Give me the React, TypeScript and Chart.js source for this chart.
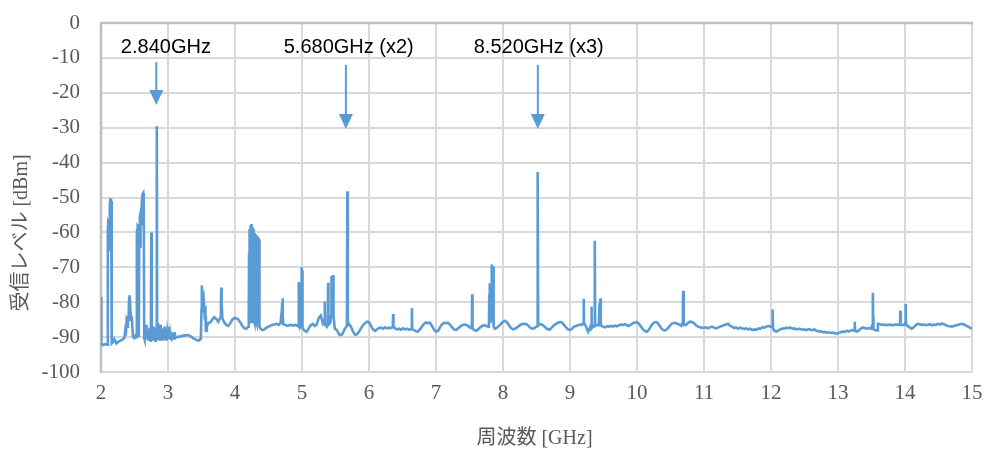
import React, { useEffect, useRef } from "react";
import { Chart, registerables } from "chart.js";

Chart.register(...registerables);

// ---- Data: [frequency GHz, level dBm] per band ----
const BAND_2_3: [number, number][] = [
  [2.0, -78.5], [2.004, -92.0], [2.03, -92.3], [2.06, -92.0], [2.09, -92.2], [2.1, -91.5],
  [2.104, -60], [2.107, -57.5], [2.112, -57], [2.118, -58], [2.124, -65], [2.128, -56], [2.134, -52], [2.14, -50.5], [2.148, -50.2], [2.152, -52], [2.158, -51], [2.162, -91.8],
  [2.17, -91.6], [2.19, -91.2], [2.2, -90.6], [2.21, -91.0], [2.23, -91.8], [2.25, -91.5], [2.27, -91.2], [2.29, -91.0], [2.31, -90.8], [2.33, -90.6], [2.35, -90.2],
  [2.36, -88.5], [2.37, -89.5], [2.38, -86], [2.39, -87], [2.4, -84], [2.41, -85.5], [2.42, -78.5], [2.425, -82], [2.43, -78], [2.44, -82.5], [2.45, -85], [2.46, -84], [2.47, -88], [2.48, -90], [2.5, -90.3], [2.52, -89.5],
  [2.53, -90], [2.535, -61], [2.54, -59], [2.545, -65], [2.55, -58.5], [2.56, -59], [2.565, -90], [2.57, -58], [2.58, -55], [2.585, -64], [2.59, -54.5], [2.6, -53.5], [2.605, -58], [2.61, -52], [2.615, -50], [2.62, -49], [2.63, -48.7], [2.635, -52], [2.64, -50], [2.645, -90.5],
  [2.65, -90.8], [2.66, -87], [2.665, -90.5], [2.675, -86.5], [2.68, -90], [2.69, -88], [2.7, -91], [2.71, -87.5], [2.72, -90.5], [2.73, -89], [2.74, -91], [2.745, -87], [2.75, -60], [2.755, -90.5], [2.76, -88], [2.77, -91], [2.78, -87], [2.79, -90.5], [2.8, -88.5], [2.81, -91], [2.82, -87.5], [2.828, -90.5], [2.833, -29.5], [2.838, -90.5],
  [2.85, -86], [2.86, -90.5], [2.87, -88], [2.88, -91], [2.89, -86.5], [2.9, -90], [2.91, -87.5], [2.92, -91], [2.93, -88], [2.94, -90.5], [2.95, -87], [2.96, -90.5], [2.97, -89], [2.98, -91], [2.99, -88.5],
];

const BAND_3_4: [number, number][] = [
  [3.0, -90], [3.01, -87], [3.02, -90.5], [3.03, -89], [3.04, -90.8], [3.05, -88.5], [3.06, -90.3], [3.08, -89.5], [3.09, -90.4], [3.1, -88.6], [3.11, -90.2],
  [3.14, -90], [3.18, -89.8], [3.22, -89.6], [3.26, -89.5], [3.3, -89.4], [3.34, -89.8], [3.38, -90.4], [3.42, -90.8], [3.46, -91], [3.49, -90.5],
  [3.5, -82], [3.505, -75.2], [3.51, -78], [3.515, -77], [3.52, -80], [3.53, -79], [3.535, -83], [3.54, -81], [3.55, -85], [3.56, -84], [3.565, -88.5], [3.57, -86.5], [3.58, -87],
  [3.6, -86], [3.63, -85.8], [3.66, -85], [3.69, -84.3], [3.72, -84.8], [3.75, -85.6], [3.78, -84.5], [3.79, -80], [3.795, -75.8], [3.8, -80], [3.81, -84.5], [3.84, -85.8], [3.87, -86.5], [3.9, -86.8], [3.93, -86], [3.96, -85], [3.99, -84.5],
];

const BAND_4_5: [number, number][] = [
  [4.02, -84.6], [4.05, -85], [4.08, -85.8], [4.11, -86.8], [4.14, -87.5], [4.17, -87.6], [4.2, -87],
  [4.205, -86], [4.21, -66], [4.215, -86], [4.22, -59], [4.225, -85], [4.23, -58], [4.235, -86], [4.24, -57.8], [4.245, -86], [4.25, -57.6], [4.255, -85], [4.26, -58.5], [4.265, -86], [4.27, -59], [4.275, -86], [4.28, -60], [4.285, -85.5], [4.29, -60.2], [4.295, -86], [4.3, -60.5], [4.305, -86], [4.31, -61], [4.315, -85.5], [4.32, -60.8], [4.325, -86], [4.33, -61.2], [4.335, -86], [4.34, -61.3], [4.345, -86], [4.35, -61.5], [4.355, -86], [4.36, -62], [4.365, -87],
  [4.38, -87.5], [4.41, -88], [4.44, -87.8], [4.47, -87.3], [4.5, -87], [4.53, -86.7], [4.56, -86.5], [4.59, -86.4], [4.62, -86.2], [4.65, -86.5], [4.68, -86], [4.7, -82], [4.705, -80], [4.71, -78.9], [4.715, -84], [4.72, -86.3], [4.75, -86.5], [4.78, -86.8], [4.81, -86.6], [4.84, -86.5], [4.87, -86.7], [4.9, -86.5], [4.93, -86.8],
  [4.945, -86.5], [4.95, -74.2], [4.955, -86.8], [4.965, -87], [4.975, -87.2], [4.985, -86.5], [4.99, -75], [4.995, -70], [5.0, -71], [5.005, -84], [5.01, -87.5],
];

const BAND_5_6: [number, number][] = [
  [5.04, -88.2], [5.07, -88.5], [5.1, -87.5], [5.13, -86.6], [5.16, -86.2], [5.19, -86.8], [5.22, -86.4], [5.25, -84.5], [5.28, -83.8], [5.31, -86], [5.335, -85], [5.34, -79.8], [5.345, -86.5], [5.37, -87], [5.385, -86], [5.39, -74.4], [5.395, -86.5], [5.42, -86], [5.435, -84], [5.44, -72.5], [5.45, -80], [5.465, -72.2], [5.47, -84], [5.49, -87.6], [5.52, -88], [5.56, -89.4], [5.6, -89.2], [5.64, -87.6], [5.67, -86.8], [5.677, -48.2], [5.684, -86.5],
  [5.7, -86.2], [5.73, -87], [5.76, -88.4], [5.79, -89.3], [5.82, -89.2], [5.85, -88.5], [5.88, -87.5], [5.91, -86.6], [5.94, -86], [5.97, -85.6],
];

const BAND_6_8: [number, number][] = [
  [6.0, -85.7], [6.03, -86.8], [6.06, -87.8], [6.09, -88.2], [6.12, -87.8], [6.15, -87.4], [6.18, -87.3], [6.21, -87.6], [6.24, -87.2], [6.27, -87.5], [6.3, -87.3], [6.33, -87.4], [6.355, -87.2], [6.36, -83.4], [6.365, -87], [6.39, -87.5], [6.42, -87.8], [6.45, -87.6], [6.48, -87.9], [6.51, -87.5], [6.54, -87.8], [6.57, -87.6], [6.6, -87.9], [6.635, -87.5], [6.64, -81.7], [6.645, -87.8], [6.67, -88], [6.7, -88.3], [6.73, -88.4], [6.76, -87.8], [6.79, -87], [6.82, -86.2], [6.85, -85.8], [6.88, -86], [6.91, -85.9], [6.94, -86.8], [6.97, -87.8],
  [7.0, -88.4], [7.03, -88.2], [7.06, -87.2], [7.09, -86.3], [7.12, -85.9], [7.15, -86], [7.18, -85.9], [7.21, -86.5], [7.24, -87.2], [7.27, -87.8], [7.3, -87.9], [7.33, -87.5], [7.36, -87], [7.39, -86.6], [7.42, -86.4], [7.45, -86.5], [7.48, -86.8], [7.51, -87.3], [7.535, -87.5], [7.54, -77.7], [7.545, -87.6], [7.57, -88], [7.6, -88.2], [7.63, -87.8], [7.66, -87.2], [7.69, -86.8], [7.72, -86.6], [7.75, -86.8], [7.78, -87], [7.79, -86.5], [7.795, -77.8], [7.8, -86], [7.805, -74.6], [7.81, -85], [7.815, -82], [7.82, -76], [7.825, -84], [7.83, -72], [7.835, -69.2], [7.84, -80], [7.845, -70], [7.85, -86], [7.855, -69.8], [7.86, -87], [7.88, -87.6], [7.91, -87.3], [7.94, -86.8], [7.97, -86.2],
];

const BAND_8_10: [number, number][] = [
  [8.0, -85.6], [8.03, -85.3], [8.06, -85.8], [8.09, -86.6], [8.12, -87.4], [8.15, -87.8], [8.18, -87.6], [8.21, -87.2], [8.24, -86.8], [8.27, -86.4], [8.3, -86.2], [8.33, -86.2], [8.36, -86.4], [8.39, -87], [8.42, -87.5], [8.45, -87.6], [8.48, -87.3], [8.51, -86.8], [8.515, -64], [8.52, -42.7], [8.525, -86.5],
  [8.55, -86.3], [8.58, -86.4], [8.61, -86.8], [8.64, -87.4], [8.67, -87.8], [8.7, -87.8], [8.73, -87.2], [8.76, -86.6], [8.79, -86.2], [8.82, -85.9], [8.85, -85.7], [8.88, -85.8], [8.91, -86.5], [8.94, -87.2], [8.97, -87.8],
  [9.0, -88], [9.03, -87.6], [9.06, -87], [9.09, -86.8], [9.12, -86.6], [9.15, -86.4], [9.18, -86.5], [9.2, -86], [9.205, -79], [9.21, -86], [9.24, -87], [9.27, -88.5], [9.3, -87.2], [9.315, -86.5], [9.32, -81.2], [9.325, -87.5], [9.35, -86.8], [9.365, -86.5], [9.37, -62.4], [9.375, -86.8], [9.4, -86.5], [9.43, -86.6], [9.44, -80.3], [9.445, -86], [9.455, -78.9], [9.46, -86.6],
  [9.49, -87], [9.52, -87.2], [9.55, -86.9], [9.58, -87], [9.61, -86.8], [9.64, -87], [9.67, -86.7], [9.7, -86.9], [9.73, -86.6], [9.76, -86.4], [9.79, -86.5], [9.82, -86.3], [9.85, -86.6], [9.88, -86.8], [9.91, -86.4], [9.94, -86], [9.97, -85.8],
];

const BAND_10_12: [number, number][] = [
  [10.0, -85.7], [10.03, -86.2], [10.06, -87], [10.09, -87.8], [10.12, -88.3], [10.15, -88.4], [10.18, -87.8], [10.21, -86.8], [10.24, -86], [10.27, -85.7], [10.3, -85.8], [10.33, -86.5], [10.36, -87.4], [10.39, -88], [10.42, -88.1], [10.45, -87.7], [10.48, -87], [10.51, -86.3], [10.54, -86], [10.57, -85.9], [10.6, -86.2], [10.63, -86.4], [10.66, -86.8], [10.68, -86], [10.685, -80], [10.69, -76.7], [10.695, -82], [10.7, -86.5],
  [10.73, -86.5], [10.76, -86], [10.79, -85.6], [10.82, -85.7], [10.85, -86], [10.88, -86.6], [10.91, -87], [10.94, -87.2], [10.97, -87.4], [11.0, -87.3], [11.03, -87.2], [11.06, -87.5], [11.09, -87.2], [11.12, -87], [11.15, -87.3], [11.18, -87.5], [11.21, -87.3], [11.24, -87], [11.27, -86.8], [11.3, -86.5], [11.33, -86.4], [11.36, -86.2], [11.39, -86.8], [11.42, -87], [11.45, -87.4], [11.48, -87.2], [11.51, -87.6], [11.54, -87.3], [11.57, -87.5], [11.6, -87.7], [11.63, -87.5], [11.66, -87.8], [11.69, -87.6], [11.72, -88], [11.75, -87.8], [11.78, -87.9], [11.81, -87.5], [11.84, -87.6], [11.87, -87.2], [11.9, -87.3], [11.93, -87], [11.96, -86.8], [11.99, -87],
];

const BAND_12_15: [number, number][] = [
  [12.02, -87], [12.025, -82.1], [12.03, -87.5], [12.05, -88.2], [12.08, -88.4], [12.11, -88.1], [12.14, -87.8], [12.17, -87.5], [12.2, -87.6], [12.23, -87.3], [12.26, -87.4], [12.29, -87.3], [12.32, -87.6], [12.35, -87.5], [12.38, -87.8], [12.41, -87.6], [12.44, -87.7], [12.47, -87.9], [12.5, -87.8], [12.53, -88], [12.56, -87.7], [12.59, -87.9], [12.62, -88], [12.65, -87.8], [12.68, -88.2], [12.71, -88.4], [12.74, -88.3], [12.77, -88.6], [12.8, -88.5], [12.83, -88.7], [12.86, -88.6], [12.89, -88.8], [12.92, -88.7], [12.95, -88.9], [12.98, -89],
  [13.01, -88.8], [13.04, -88.6], [13.07, -88.4], [13.1, -88.5], [13.13, -88.2], [13.16, -88.4], [13.19, -88.1], [13.22, -88], [13.245, -88.1], [13.25, -85.6], [13.255, -88.2], [13.28, -88.4], [13.31, -88.1], [13.34, -87.6], [13.37, -87.2], [13.4, -87.4], [13.43, -87.6], [13.46, -87.4], [13.49, -87.6], [13.515, -86.5], [13.52, -77.3], [13.525, -84.2], [13.53, -87.8], [13.56, -88], [13.59, -88.1], [13.595, -86.2], [13.63, -86.3], [13.66, -86.5], [13.69, -86.4], [13.72, -86.6], [13.75, -86.5], [13.78, -86.4], [13.81, -86.6], [13.84, -86.5], [13.87, -86.4], [13.9, -86.5], [13.925, -86.3], [13.93, -82.4], [13.935, -86.5], [13.96, -86.6], [13.99, -86.4], [14.005, -86], [14.01, -80.5], [14.015, -86.5],
  [14.04, -86.8], [14.07, -87.2], [14.1, -87.6], [14.13, -87.2], [14.16, -86.6], [14.19, -86.2], [14.22, -86.3], [14.25, -86.5], [14.28, -86.4], [14.31, -86.6], [14.34, -86.5], [14.37, -86.3], [14.4, -86.6], [14.43, -86.4], [14.46, -86.5], [14.49, -86.2], [14.52, -86.4], [14.55, -86.1], [14.58, -86.3], [14.61, -86.6], [14.64, -86.8], [14.67, -86.9], [14.7, -87], [14.73, -86.8], [14.76, -86.6], [14.79, -86.5], [14.82, -86.3], [14.85, -86.2], [14.88, -86.4], [14.91, -86.7], [14.94, -87], [14.97, -87.3], [15.0, -87.6],
];

// ---- Annotations ----
const ARROW_GHZ = [2.825, 5.655, 8.52];
const ARROW_TOP_DBM = [-11.2, -12.0, -12.0];
const ARROW_TIP_DBM = [-23.5, -30.4, -30.4];
const LABEL_TEXTS = ["2.840GHz", "5.680GHz (x2)", "8.520GHz (x3)"];
const LABEL_GHZ = [2.296, 4.727, 7.563];
const LABEL_DBM = -6.9;

const X_TITLE = "周波数 [GHz]";
const Y_TITLE = "受信レベル [dBm]";

const X_MIN = 2, X_MAX = 15, Y_MIN = -100, Y_MAX = 0;

const BLUE = "#5b9bd5";
const GRID = "#d9d9d9";
const AXIS = "#bfbfbf";
const TEXT_GRAY = "#595959";
const SERIF = '"Liberation Serif", "Noto Sans CJK JP", serif';

const annotationPlugin = {
  id: "spectrumAnnotations",
  beforeDatasetsDraw(chart: any) {
    const { ctx, chartArea } = chart;
    ctx.save();
    ctx.strokeStyle = AXIS;
    ctx.lineWidth = 2.5;
    ctx.beginPath();
    ctx.moveTo(chartArea.left, chartArea.bottom + 1);
    ctx.lineTo(chartArea.left, chartArea.top);
    ctx.lineTo(chartArea.right + 1, chartArea.top);
    ctx.stroke();
    ctx.restore();
  },
  afterDraw(chart: any) {
    const { ctx, scales, chartArea } = chart;
    const x = scales.x, y = scales.y;
    ctx.save();
    ctx.strokeStyle = BLUE;
    ctx.fillStyle = BLUE;
    ctx.lineWidth = 2;
    for (let i = 0; i < ARROW_GHZ.length; i++) {
      const px = x.getPixelForValue(ARROW_GHZ[i]);
      const top = y.getPixelForValue(ARROW_TOP_DBM[i]);
      const tip = y.getPixelForValue(ARROW_TIP_DBM[i]);
      const head = 15;
      ctx.beginPath();
      ctx.moveTo(px, top);
      ctx.lineTo(px, tip - head + 1);
      ctx.stroke();
      ctx.beginPath();
      ctx.moveTo(px - 7, tip - head);
      ctx.lineTo(px + 7, tip - head);
      ctx.lineTo(px, tip);
      ctx.closePath();
      ctx.fill();
    }
    ctx.fillStyle = "#000000";
    ctx.font = '20px "Liberation Sans", Arial, sans-serif';
    ctx.textAlign = "left";
    ctx.textBaseline = "middle";
    for (let i = 0; i < LABEL_TEXTS.length; i++) {
      ctx.fillText(LABEL_TEXTS[i], x.getPixelForValue(LABEL_GHZ[i]), y.getPixelForValue(LABEL_DBM));
    }
    // axis titles
    ctx.fillStyle = TEXT_GRAY;
    ctx.font = "20px " + SERIF;
    ctx.textAlign = "center";
    ctx.textBaseline = "middle";
    ctx.fillText(X_TITLE, (chartArea.left + chartArea.right) / 2 - 2, 439);
    ctx.translate(22, 233);
    ctx.rotate(-Math.PI / 2);
    ctx.fillText(Y_TITLE, 0, 0);
    ctx.restore();
  },
};

export default function App() {
  const canvasRef = useRef<HTMLCanvasElement | null>(null);

  useEffect(() => {
    document.body.style.margin = "0";
    const canvas = canvasRef.current;
    if (!canvas) return;
    const points = [
      ...BAND_2_3, ...BAND_3_4, ...BAND_4_5, ...BAND_5_6,
      ...BAND_6_8, ...BAND_8_10, ...BAND_10_12, ...BAND_12_15,
    ].map(([f, l]) => ({ x: f, y: l }));

    const chart = new Chart(canvas, {
      type: "line",
      data: {
        datasets: [
          {
            label: "受信レベル",
            data: points,
            borderColor: BLUE,
            backgroundColor: BLUE,
            borderWidth: 2.6,
            pointRadius: 0,
            tension: 0,
            fill: false,
          },
        ],
      },
      options: {
        animation: false,
        responsive: true,
        maintainAspectRatio: false,
        devicePixelRatio: 1,
        layout: { padding: { left: 0, right: 15, top: 23, bottom: 0 } },
        plugins: {
          legend: { display: false },
          tooltip: { enabled: false },
          title: { display: false },
        },
        scales: {
          x: {
            type: "linear",
            min: X_MIN,
            max: X_MAX,
            border: { display: false },
            grid: {
              color: GRID,
              lineWidth: 2,
              drawTicks: false,
            },
            ticks: {
              stepSize: 1,
              autoSkip: false,
              maxRotation: 0,
              padding: 9,
              color: TEXT_GRAY,
              font: { family: SERIF, size: 21 },
            },
            afterFit: (scale: any) => {
              scale.height = 78;
              scale.paddingLeft = 0;
              scale.paddingRight = 0;
            },
          },
          y: {
            type: "linear",
            min: Y_MIN,
            max: Y_MAX,
            border: { display: false },
            grid: {
              color: GRID,
              lineWidth: 2,
              drawTicks: false,
            },
            ticks: {
              stepSize: 10,
              padding: 21,
              color: TEXT_GRAY,
              font: { family: SERIF, size: 21 },
              callback: (v: any) => String(v),
            },
            afterFit: (scale: any) => {
              scale.width = 101;
              scale.paddingTop = 0;
              scale.paddingBottom = 0;
            },
          },
        },
      },
      plugins: [annotationPlugin],
    });

    return () => chart.destroy();
  }, []);

  return (
    <div style={{ position: "absolute", left: 0, top: 0, width: 987, height: 450, background: "#ffffff" }}>
      <canvas ref={canvasRef} />
    </div>
  );
}
